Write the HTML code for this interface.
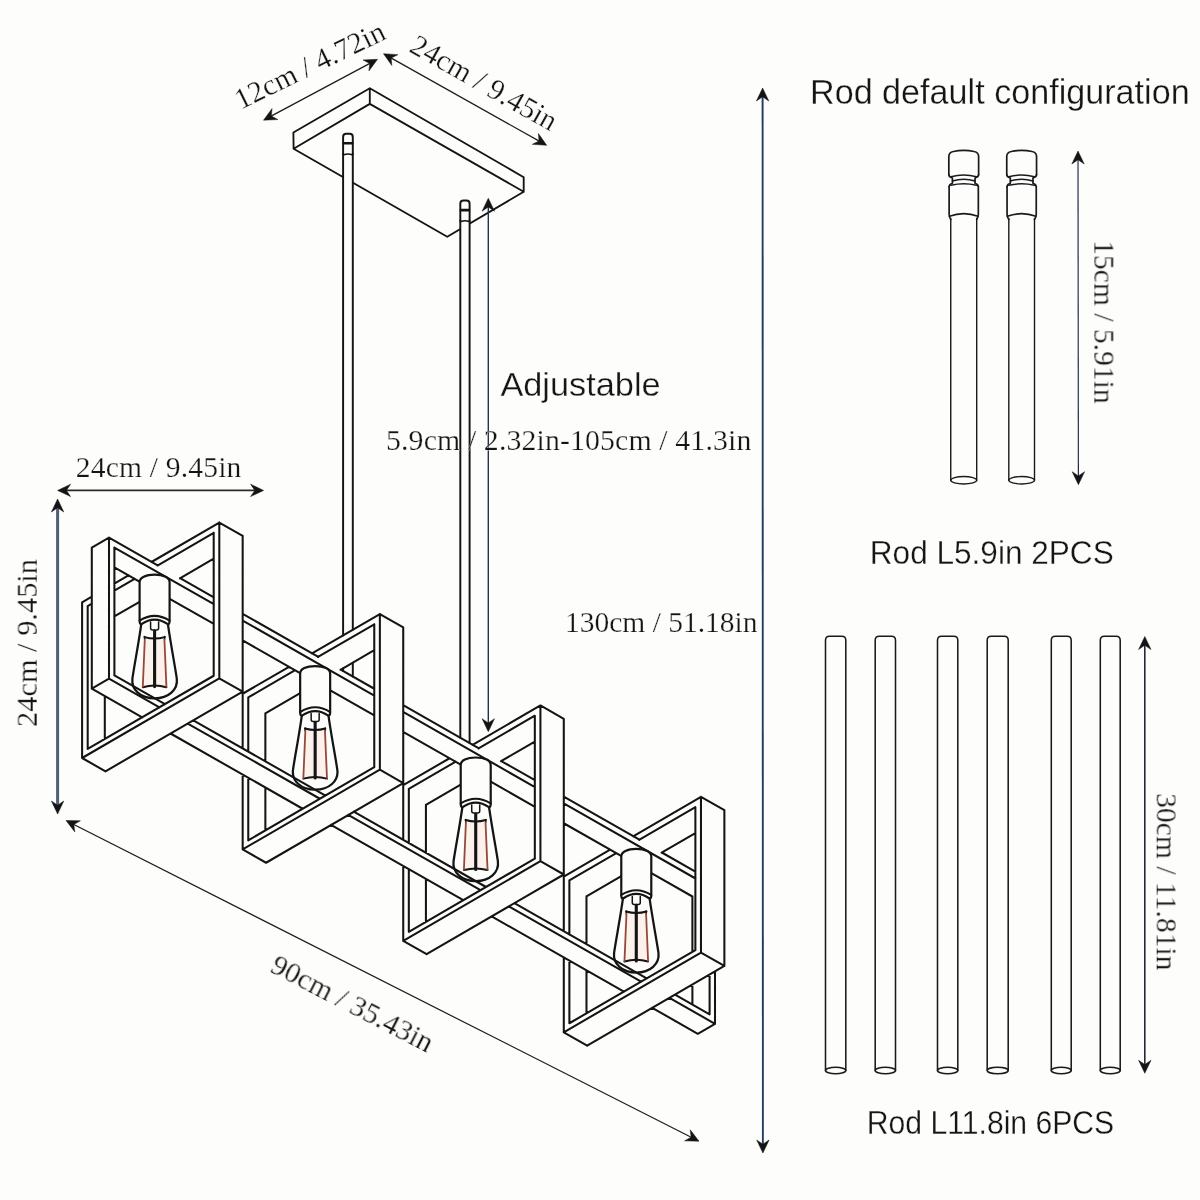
<!DOCTYPE html>
<html lang="en"><head><meta charset="utf-8"><title>Chandelier dimensions</title>
<style>
html,body{margin:0;padding:0;background:#fdfdfb;}
body{width:1200px;height:1200px;overflow:hidden;position:relative;}
svg{position:absolute;left:0;top:0;display:block;}
text{font-family:"Liberation Serif","Times New Roman",serif;}
text.sans{font-family:"Liberation Sans",Arial,sans-serif;}
</style></head><body>
<svg width="1200" height="1200" viewBox="0 0 1200 1200">
<path d="M293.4 132.5L369.8 88.2L523.7 177.2L523.7 191.75L447.25 236.7L293.6 148.8L293.4 132.5L293.6 148.8L369.8 103.9L523.7 191.75M369.8 88.2L369.8 103.9" fill="#fdfdfb" stroke="#141414" stroke-width="1.85" stroke-linecap="round" stroke-linejoin="round"/>
<rect x="343.1" y="135.7" width="9.7" height="58" fill="#fdfdfb"/>
<path d="M343.1 154.2L343.1 136.9Q343.1 133.7 346.3 133.7L349.6 133.7Q352.8 133.7 352.8 136.9L352.8 154.2" fill="#fdfdfb" stroke="#141414" stroke-width="1.95" stroke-linecap="round" stroke-linejoin="round"/>
<path d="M343.7 143.3L352.2 143.3" fill="none" stroke="#141414" stroke-width="2.6" stroke-linecap="round" stroke-linejoin="round"/>
<path d="M343.7 154.7Q347.95 153.1 352.2 154.7" fill="none" stroke="#141414" stroke-width="1.5" stroke-linecap="round" stroke-linejoin="round"/>
<rect x="460.3" y="202.5" width="9.3" height="58" fill="#fdfdfb"/>
<path d="M460.3 221L460.3 203.7Q460.3 200.5 463.5 200.5L466.4 200.5Q469.6 200.5 469.6 203.7L469.6 221" fill="#fdfdfb" stroke="#141414" stroke-width="1.95" stroke-linecap="round" stroke-linejoin="round"/>
<path d="M460.9 210.1L469 210.1" fill="none" stroke="#141414" stroke-width="2.6" stroke-linecap="round" stroke-linejoin="round"/>
<path d="M460.9 221.5Q464.95 219.9 469 221.5" fill="none" stroke="#141414" stroke-width="1.5" stroke-linecap="round" stroke-linejoin="round"/>
<path d="M343.1 153.7L343.1 635.46M343.1 668.27L343.1 671.07M352.8 153.7L352.8 629.81M352.8 662.61L352.8 676.62M460.3 220.5L460.3 737.7M469.6 220.5L469.6 743.05" fill="none" stroke="#141414" stroke-width="1.95" stroke-linecap="round" stroke-linejoin="round"/>
<path d="M109 678.67L159.41 707.38M187.75 723.52L319.87 798.76M348.2 814.9L480.49 890.23M508.83 906.37L641.12 981.71M669.45 997.85L715 1023.79M715 971.39L715 1023.79M109 537.67L157.67 565.39M180.1 578.16L213.82 597.37M242.68 613.8L318.3 656.87M340.73 669.64L374.28 688.75M403.13 705.18L478.93 748.34M501.18 761.02L534.9 780.22M563.76 796.66L639.38 839.72M661.81 852.49L695.36 871.6M109 537.67L109 678.67M114.4 675.35L164.99 704.15M193.32 720.29L325.43 795.53M353.77 811.66L486.05 887M514.39 903.14L646.67 978.47M675.01 994.61L709.6 1014.31M709.6 974.51L709.6 1014.31M114.4 547.55L213.83 604.17M242.69 620.61L374.28 695.55M403.13 711.98L534.9 787.02M563.76 803.45L695.52 878.49M114.4 547.55L114.4 675.35M91.8 688.66L109 678.67M91.8 547.66L109 537.67M91.8 547.66L91.8 688.66M91.8 688.66L142.21 717.37M170.55 733.51L302.67 808.75M331 824.89L463.29 900.23M491.63 916.37L623.92 991.7M652.25 1007.84L697.8 1033.78M697.8 1033.78L715 1023.79M692.4 896.5L692.4 951.79M692.4 984.44L692.4 1004.47M114.41 567.34L139.44 581.59M169.69 598.82L213.84 623.97M242.7 640.4L300.06 673.07M330.31 690.29L374.29 715.34M403.14 731.77L460.68 764.54M490.76 781.67L534.91 806.81M563.76 823.25L621.13 855.92M651.38 873.14L692.4 896.5M82.1 758L219.3 678.28M219.3 522.58L219.3 678.28M82.1 602.3L91.79 596.67M114.28 583.6L128.47 575.36M151.48 561.99L219.3 522.58M82.1 602.3L82.1 758M87.7 748.94L213.7 675.74M213.7 532.84L213.7 675.74M87.7 606.04L91.85 603.63M114.35 590.56L134.6 578.79M157.45 565.52L213.7 532.84M87.7 606.04L87.7 748.94M219.3 678.28L242.7 691.61M379.86 769.72L403.26 783.05M540.42 861.16L563.82 874.49M700.98 952.6L724.38 965.93M242.67 535.91L242.67 691.61M242.67 693.74L242.67 748.37M242.67 774.59L242.67 849.44M219.3 522.58L242.7 535.91M379.86 614.02L403.26 627.35M540.42 705.46L563.82 718.79M700.98 796.9L724.38 810.23M82.1 758L105.5 771.32M242.66 849.44L266.06 862.76M403.22 940.88L426.62 954.2M563.78 1032.31L587.18 1045.64M105.5 771.32L242.7 691.61M104.8 696.04L104.8 739.07M114.32 616.46L139.6 601.78M179.94 578.34L213.69 558.73M242.66 849.44L379.86 769.72M379.86 614.02L379.86 769.72M242.66 693.74L289.03 666.8M312.04 653.43L379.86 614.02M248.26 840.38L374.26 767.18M374.26 624.28L374.26 767.18M248.26 697.48L295.16 670.23M318.01 656.96L374.26 624.28M248.26 697.48L248.26 751.72M248.26 777.74L248.26 840.38M403.23 627.35L403.23 783.05M403.23 785.18L403.23 839.81M403.23 866.03L403.23 940.88M266.06 862.76L403.26 783.05M265.36 713.43L265.36 761.47M265.36 787.48L265.36 830.51M265.36 713.43L300.16 693.22M340.5 669.78L374.25 650.17M403.22 940.88L540.42 861.16M540.42 705.46L540.42 861.16M403.22 785.18L449.59 758.24M472.6 744.87L540.42 705.46M408.82 931.82L534.82 858.62M534.82 715.72L534.82 858.62M408.82 788.92L455.72 761.67M478.57 748.4L534.82 715.72M408.82 788.92L408.82 843.16M408.82 869.18L408.82 931.82M563.79 718.79L563.79 874.49M563.79 876.61L563.79 931.25M563.79 957.47L563.79 1032.31M426.62 954.2L563.82 874.49M425.92 804.87L425.92 852.9M425.92 878.92L425.92 921.95M425.92 804.87L460.72 784.66M501.06 761.22L534.81 741.61M563.78 1032.31L700.98 952.6M700.98 796.9L700.98 952.6M563.78 876.61L610.15 849.68M633.16 836.31L700.98 796.9M569.38 1023.26L695.38 950.06M695.38 807.16L695.38 950.06M569.38 880.36L616.28 853.11M639.13 839.84L695.38 807.16M569.38 880.36L569.38 934.6M569.38 960.62L569.38 1023.26M724.38 810.23L724.38 965.93M587.18 1045.64L724.38 965.93M586.48 896.31L586.48 944.34M586.48 970.36L586.48 1013.39M586.48 896.31L621.28 876.1M661.62 852.66L695.37 833.05" fill="none" stroke="#141414" stroke-width="2.05" stroke-linecap="round" stroke-linejoin="round"/>
<path d="M144.6 638.6L164.6 638.6L166.6 686.6L142.6 686.6Z" fill="#fdf1ec" stroke="#fdf6f3" stroke-width="3" stroke-linejoin="round"/>
<path d="M141.4 623.1C139.1 640.6 134.1 666.6 132.4 678.6C131.1 689.6 140.6 698.3 154.6 698.3C168.6 698.3 178.1 689.6 176.8 678.6C175.1 666.6 170.1 640.6 167.8 623.1" fill="none" stroke="#141414" stroke-width="2.25" stroke-linecap="round" stroke-linejoin="round"/>
<path d="M139.6 621.1L139.6 582.1C139.6 577.6 145.6 574.6 154.6 574.6C163.6 574.6 169.6 577.6 169.6 582.1L169.6 621.1C169.6 623.1 168.8 624.2 167.8 624.2Q154.6 615.1 141.4 624.2C140.4 624.2 139.6 623.1 139.6 621.1Z" fill="#fdfdfb" stroke="#141414" stroke-width="2.2" stroke-linecap="round" stroke-linejoin="round"/>
<path d="M139.6 620.6Q154.6 611.1 169.6 620.6" fill="none" stroke="#141414" stroke-width="2.05" stroke-linecap="round" stroke-linejoin="round"/>
<path d="M150.6 622.1L150.6 628.1Q150.6 630.1 152.6 630.1L156.6 630.1Q158.6 630.1 158.6 628.1L158.6 622.1" fill="none" stroke="#141414" stroke-width="1.5" stroke-linecap="round" stroke-linejoin="round"/>
<path d="M154.6 631.1L154.6 686.6" fill="none" stroke="#141414" stroke-width="3.1" stroke-linecap="round" stroke-linejoin="round" stroke-linecap="butt"/>
<path d="M144.4 637.1Q154.6 640.1 164.8 637.1" fill="none" stroke="#141414" stroke-width="2" stroke-linecap="round" stroke-linejoin="round"/>
<path d="M142.8 687.2Q154.6 683.8 166.4 687.2" fill="none" stroke="#141414" stroke-width="2" stroke-linecap="round" stroke-linejoin="round"/>
<path d="M144.6 636.6L144.6 639.6" fill="none" stroke="#141414" stroke-width="1.5" stroke-linecap="round" stroke-linejoin="round"/>
<path d="M164.6 636.6L164.6 639.6" fill="none" stroke="#141414" stroke-width="1.5" stroke-linecap="round" stroke-linejoin="round"/>
<path d="M144.8 639.6L142.8 686.6" fill="none" stroke="#94493a" stroke-width="1.8" stroke-linecap="round" stroke-linejoin="round"/>
<path d="M164.4 639.6L166.4 686.6" fill="none" stroke="#94493a" stroke-width="1.8" stroke-linecap="round" stroke-linejoin="round"/>
<path d="M305.16 730.04L325.16 730.04L327.16 778.04L303.16 778.04Z" fill="#fdf1ec" stroke="#fdf6f3" stroke-width="3" stroke-linejoin="round"/>
<path d="M301.96 714.54C299.66 732.04 294.66 758.04 292.96 770.04C291.66 781.04 301.16 789.74 315.16 789.74C329.16 789.74 338.66 781.04 337.36 770.04C335.66 758.04 330.66 732.04 328.36 714.54" fill="none" stroke="#141414" stroke-width="2.25" stroke-linecap="round" stroke-linejoin="round"/>
<path d="M300.16 712.54L300.16 673.54C300.16 669.04 306.16 666.04 315.16 666.04C324.16 666.04 330.16 669.04 330.16 673.54L330.16 712.54C330.16 714.54 329.36 715.64 328.36 715.64Q315.16 706.54 301.96 715.64C300.96 715.64 300.16 714.54 300.16 712.54Z" fill="#fdfdfb" stroke="#141414" stroke-width="2.2" stroke-linecap="round" stroke-linejoin="round"/>
<path d="M300.16 712.04Q315.16 702.54 330.16 712.04" fill="none" stroke="#141414" stroke-width="2.05" stroke-linecap="round" stroke-linejoin="round"/>
<path d="M311.16 713.54L311.16 719.54Q311.16 721.54 313.16 721.54L317.16 721.54Q319.16 721.54 319.16 719.54L319.16 713.54" fill="none" stroke="#141414" stroke-width="1.5" stroke-linecap="round" stroke-linejoin="round"/>
<path d="M315.16 722.54L315.16 778.04" fill="none" stroke="#141414" stroke-width="3.1" stroke-linecap="round" stroke-linejoin="round" stroke-linecap="butt"/>
<path d="M304.96 728.54Q315.16 731.54 325.36 728.54" fill="none" stroke="#141414" stroke-width="2" stroke-linecap="round" stroke-linejoin="round"/>
<path d="M303.36 778.64Q315.16 775.24 326.96 778.64" fill="none" stroke="#141414" stroke-width="2" stroke-linecap="round" stroke-linejoin="round"/>
<path d="M305.16 728.04L305.16 731.04" fill="none" stroke="#141414" stroke-width="1.5" stroke-linecap="round" stroke-linejoin="round"/>
<path d="M325.16 728.04L325.16 731.04" fill="none" stroke="#141414" stroke-width="1.5" stroke-linecap="round" stroke-linejoin="round"/>
<path d="M305.36 731.04L303.36 778.04" fill="none" stroke="#94493a" stroke-width="1.8" stroke-linecap="round" stroke-linejoin="round"/>
<path d="M324.96 731.04L326.96 778.04" fill="none" stroke="#94493a" stroke-width="1.8" stroke-linecap="round" stroke-linejoin="round"/>
<path d="M465.72 821.48L485.72 821.48L487.72 869.48L463.72 869.48Z" fill="#fdf1ec" stroke="#fdf6f3" stroke-width="3" stroke-linejoin="round"/>
<path d="M462.52 805.98C460.22 823.48 455.22 849.48 453.52 861.48C452.22 872.48 461.72 881.18 475.72 881.18C489.72 881.18 499.22 872.48 497.92 861.48C496.22 849.48 491.22 823.48 488.92 805.98" fill="none" stroke="#141414" stroke-width="2.25" stroke-linecap="round" stroke-linejoin="round"/>
<path d="M460.72 803.98L460.72 764.98C460.72 760.48 466.72 757.48 475.72 757.48C484.72 757.48 490.72 760.48 490.72 764.98L490.72 803.98C490.72 805.98 489.92 807.08 488.92 807.08Q475.72 797.98 462.52 807.08C461.52 807.08 460.72 805.98 460.72 803.98Z" fill="#fdfdfb" stroke="#141414" stroke-width="2.2" stroke-linecap="round" stroke-linejoin="round"/>
<path d="M460.72 803.48Q475.72 793.98 490.72 803.48" fill="none" stroke="#141414" stroke-width="2.05" stroke-linecap="round" stroke-linejoin="round"/>
<path d="M471.72 804.98L471.72 810.98Q471.72 812.98 473.72 812.98L477.72 812.98Q479.72 812.98 479.72 810.98L479.72 804.98" fill="none" stroke="#141414" stroke-width="1.5" stroke-linecap="round" stroke-linejoin="round"/>
<path d="M475.72 813.98L475.72 869.48" fill="none" stroke="#141414" stroke-width="3.1" stroke-linecap="round" stroke-linejoin="round" stroke-linecap="butt"/>
<path d="M465.52 819.98Q475.72 822.98 485.92 819.98" fill="none" stroke="#141414" stroke-width="2" stroke-linecap="round" stroke-linejoin="round"/>
<path d="M463.92 870.08Q475.72 866.68 487.52 870.08" fill="none" stroke="#141414" stroke-width="2" stroke-linecap="round" stroke-linejoin="round"/>
<path d="M465.72 819.48L465.72 822.48" fill="none" stroke="#141414" stroke-width="1.5" stroke-linecap="round" stroke-linejoin="round"/>
<path d="M485.72 819.48L485.72 822.48" fill="none" stroke="#141414" stroke-width="1.5" stroke-linecap="round" stroke-linejoin="round"/>
<path d="M465.92 822.48L463.92 869.48" fill="none" stroke="#94493a" stroke-width="1.8" stroke-linecap="round" stroke-linejoin="round"/>
<path d="M485.52 822.48L487.52 869.48" fill="none" stroke="#94493a" stroke-width="1.8" stroke-linecap="round" stroke-linejoin="round"/>
<path d="M626.28 912.92L646.28 912.92L648.28 960.92L624.28 960.92Z" fill="#fdf1ec" stroke="#fdf6f3" stroke-width="3" stroke-linejoin="round"/>
<path d="M623.08 897.42C620.78 914.92 615.78 940.92 614.08 952.92C612.78 963.92 622.28 972.62 636.28 972.62C650.28 972.62 659.78 963.92 658.48 952.92C656.78 940.92 651.78 914.92 649.48 897.42" fill="none" stroke="#141414" stroke-width="2.25" stroke-linecap="round" stroke-linejoin="round"/>
<path d="M621.28 895.42L621.28 856.42C621.28 851.92 627.28 848.92 636.28 848.92C645.28 848.92 651.28 851.92 651.28 856.42L651.28 895.42C651.28 897.42 650.48 898.52 649.48 898.52Q636.28 889.42 623.08 898.52C622.08 898.52 621.28 897.42 621.28 895.42Z" fill="#fdfdfb" stroke="#141414" stroke-width="2.2" stroke-linecap="round" stroke-linejoin="round"/>
<path d="M621.28 894.92Q636.28 885.42 651.28 894.92" fill="none" stroke="#141414" stroke-width="2.05" stroke-linecap="round" stroke-linejoin="round"/>
<path d="M632.28 896.42L632.28 902.42Q632.28 904.42 634.28 904.42L638.28 904.42Q640.28 904.42 640.28 902.42L640.28 896.42" fill="none" stroke="#141414" stroke-width="1.5" stroke-linecap="round" stroke-linejoin="round"/>
<path d="M636.28 905.42L636.28 960.92" fill="none" stroke="#141414" stroke-width="3.1" stroke-linecap="round" stroke-linejoin="round" stroke-linecap="butt"/>
<path d="M626.08 911.42Q636.28 914.42 646.48 911.42" fill="none" stroke="#141414" stroke-width="2" stroke-linecap="round" stroke-linejoin="round"/>
<path d="M624.48 961.52Q636.28 958.12 648.08 961.52" fill="none" stroke="#141414" stroke-width="2" stroke-linecap="round" stroke-linejoin="round"/>
<path d="M626.28 910.92L626.28 913.92" fill="none" stroke="#141414" stroke-width="1.5" stroke-linecap="round" stroke-linejoin="round"/>
<path d="M646.28 910.92L646.28 913.92" fill="none" stroke="#141414" stroke-width="1.5" stroke-linecap="round" stroke-linejoin="round"/>
<path d="M626.48 913.92L624.48 960.92" fill="none" stroke="#94493a" stroke-width="1.8" stroke-linecap="round" stroke-linejoin="round"/>
<path d="M646.08 913.92L648.08 960.92" fill="none" stroke="#94493a" stroke-width="1.8" stroke-linecap="round" stroke-linejoin="round"/>
<path d="M268.79 117.37L372.21 62.13" fill="none" stroke="#1b1b20" stroke-width="1.2"/>
<path d="M263.5 120.2L272.05 108.61L271.26 116.05L277.89 119.54Z" fill="#141414" stroke="#141414" stroke-width="0.5" stroke-linejoin="miter"/>
<path d="M377.5 59.3L368.95 70.89L369.74 63.45L363.11 59.96Z" fill="#141414" stroke="#141414" stroke-width="0.5" stroke-linejoin="miter"/>
<path d="M388.73 56.64L541.47 142.36" fill="none" stroke="#1b1b20" stroke-width="1.2"/>
<path d="M383.5 53.7L397.87 54.66L391.17 58.01L391.8 65.47Z" fill="#141414" stroke="#141414" stroke-width="0.5" stroke-linejoin="miter"/>
<path d="M546.7 145.3L532.33 144.34L539.03 140.99L538.4 133.53Z" fill="#141414" stroke="#141414" stroke-width="0.5" stroke-linejoin="miter"/>
<path d="M488.3 204.2L488.3 725.7" fill="none" stroke="#26324f" stroke-width="1.4"/>
<path d="M488.3 198.2L494.5 211.2L488.3 207L482.1 211.2Z" fill="#141414" stroke="#141414" stroke-width="0.5" stroke-linejoin="miter"/>
<path d="M488.3 731.7L482.1 718.7L488.3 722.9L494.5 718.7Z" fill="#141414" stroke="#141414" stroke-width="0.5" stroke-linejoin="miter"/>
<path d="M762.6 94L762.9 1147" fill="none" stroke="#263a60" stroke-width="1.9"/>
<path d="M762.6 88L768.8 101L762.6 96.8L756.4 101Z" fill="#141414" stroke="#141414" stroke-width="0.5" stroke-linejoin="miter"/>
<path d="M762.9 1153L756.7 1140L762.9 1144.2L769.1 1140Z" fill="#141414" stroke="#141414" stroke-width="0.5" stroke-linejoin="miter"/>
<path d="M63.6 490.4L257.6 490.4" fill="none" stroke="#2a2a2e" stroke-width="1.7"/>
<path d="M57.6 490.4L70.6 484.2L66.4 490.4L70.6 496.6Z" fill="#141414" stroke="#141414" stroke-width="0.5" stroke-linejoin="miter"/>
<path d="M263.6 490.4L250.6 496.6L254.8 490.4L250.6 484.2Z" fill="#141414" stroke="#141414" stroke-width="0.5" stroke-linejoin="miter"/>
<path d="M57.6 505L57.6 808" fill="none" stroke="#505d7b" stroke-width="3"/>
<path d="M57.6 499L63.8 512L57.6 507.8L51.4 512Z" fill="#141414" stroke="#141414" stroke-width="0.5" stroke-linejoin="miter"/>
<path d="M57.6 814L51.4 801L57.6 805.2L63.8 801Z" fill="#141414" stroke="#141414" stroke-width="0.5" stroke-linejoin="miter"/>
<path d="M71.35 823.21L693.65 1138.49" fill="none" stroke="#1b1b20" stroke-width="1.2"/>
<path d="M66 820.5L80.4 820.84L73.85 824.48L74.79 831.91Z" fill="#141414" stroke="#141414" stroke-width="0.5" stroke-linejoin="miter"/>
<path d="M699 1141.2L684.6 1140.86L691.15 1137.22L690.21 1129.79Z" fill="#141414" stroke="#141414" stroke-width="0.5" stroke-linejoin="miter"/>
<path d="M1078.01 157L1078.39 478.7" fill="none" stroke="#24304e" stroke-width="1.2"/>
<path d="M1078 151L1084.22 163.99L1078.01 159.8L1071.82 164.01Z" fill="#141414" stroke="#141414" stroke-width="0.5" stroke-linejoin="miter"/>
<path d="M1078.4 484.7L1072.18 471.71L1078.39 475.9L1084.58 471.69Z" fill="#141414" stroke="#141414" stroke-width="0.5" stroke-linejoin="miter"/>
<path d="M1144.8 642.5L1144.8 1067.3" fill="none" stroke="#262a38" stroke-width="1.6"/>
<path d="M1144.8 636.5L1151 649.5L1144.8 645.3L1138.6 649.5Z" fill="#141414" stroke="#141414" stroke-width="0.5" stroke-linejoin="miter"/>
<path d="M1144.8 1073.3L1138.6 1060.3L1144.8 1064.5L1151 1060.3Z" fill="#141414" stroke="#141414" stroke-width="0.5" stroke-linejoin="miter"/>
<path d="M825.5 1070.5L825.5 640.3Q825.5 636.3 829.5 636.3L841.8 636.3Q845.8 636.3 845.8 640.3L845.8 1070.5" fill="none" stroke="#1a1a1e" stroke-width="1.55" stroke-linecap="round" stroke-linejoin="round"/>
<ellipse cx="835.65" cy="1070.5" rx="10.15" ry="3.2" fill="none" stroke="#1a1a1e" stroke-width="1.55"/>
<path d="M875.2 1070.5L875.2 640.3Q875.2 636.3 879.2 636.3L891.5 636.3Q895.5 636.3 895.5 640.3L895.5 1070.5" fill="none" stroke="#1a1a1e" stroke-width="1.55" stroke-linecap="round" stroke-linejoin="round"/>
<ellipse cx="885.35" cy="1070.5" rx="10.15" ry="3.2" fill="none" stroke="#1a1a1e" stroke-width="1.55"/>
<path d="M937.5 1070.5L937.5 640.3Q937.5 636.3 941.5 636.3L953.8 636.3Q957.8 636.3 957.8 640.3L957.8 1070.5" fill="none" stroke="#1a1a1e" stroke-width="1.55" stroke-linecap="round" stroke-linejoin="round"/>
<ellipse cx="947.65" cy="1070.5" rx="10.15" ry="3.2" fill="none" stroke="#1a1a1e" stroke-width="1.55"/>
<path d="M987.2 1070.5L987.2 640.3Q987.2 636.3 991.2 636.3L1004.2 636.3Q1008.2 636.3 1008.2 640.3L1008.2 1070.5" fill="none" stroke="#1a1a1e" stroke-width="1.55" stroke-linecap="round" stroke-linejoin="round"/>
<ellipse cx="997.7" cy="1070.5" rx="10.5" ry="3.2" fill="none" stroke="#1a1a1e" stroke-width="1.55"/>
<path d="M1051.3 1070.5L1051.3 640.3Q1051.3 636.3 1055.3 636.3L1067.2 636.3Q1071.2 636.3 1071.2 640.3L1071.2 1070.5" fill="none" stroke="#1a1a1e" stroke-width="1.55" stroke-linecap="round" stroke-linejoin="round"/>
<ellipse cx="1061.25" cy="1070.5" rx="9.95" ry="3.2" fill="none" stroke="#1a1a1e" stroke-width="1.55"/>
<path d="M1100.3 1070.5L1100.3 640.3Q1100.3 636.3 1104.3 636.3L1116.2 636.3Q1120.2 636.3 1120.2 640.3L1120.2 1070.5" fill="none" stroke="#1a1a1e" stroke-width="1.55" stroke-linecap="round" stroke-linejoin="round"/>
<ellipse cx="1110.25" cy="1070.5" rx="9.95" ry="3.2" fill="none" stroke="#1a1a1e" stroke-width="1.55"/>
<path d="M950.75 218.5L950.75 480.25M976.7 218.5L976.7 480.25" fill="none" stroke="#1a1a1e" stroke-width="1.4" stroke-linecap="round" stroke-linejoin="round"/>
<ellipse cx="963.73" cy="480.25" rx="12.98" ry="3.7" fill="none" stroke="#1a1a1e" stroke-width="1.4"/>
<path d="M948.83 174.5L948.83 156.5Q948.83 152.3 953.33 151.5Q963.73 149.3 974.12 151.5Q978.62 152.3 978.62 156.5L978.62 174.5" fill="none" stroke="#1a1a1e" stroke-width="1.7" stroke-linecap="round" stroke-linejoin="round"/>
<path d="M948.83 174.5Q948.83 177 952.43 178L952.43 183.3Q949.33 184.3 949.12 186.5" fill="none" stroke="#1a1a1e" stroke-width="1.7" stroke-linecap="round" stroke-linejoin="round"/>
<path d="M978.62 174.5Q978.62 177 975.02 178L975.02 183.3Q978.12 184.3 978.33 186.5" fill="none" stroke="#1a1a1e" stroke-width="1.7" stroke-linecap="round" stroke-linejoin="round"/>
<path d="M950.93 176.8Q963.73 173.2 976.52 176.8" fill="none" stroke="#1a1a1e" stroke-width="1.5" stroke-linecap="round" stroke-linejoin="round"/>
<path d="M952.43 181Q963.73 177.6 975.02 181" fill="none" stroke="#1a1a1e" stroke-width="1.5" stroke-linecap="round" stroke-linejoin="round"/>
<path d="M950.93 185.3Q963.73 182.3 976.52 185.3" fill="none" stroke="#1a1a1e" stroke-width="1.5" stroke-linecap="round" stroke-linejoin="round"/>
<path d="M949.12 186.5L949.12 214.5Q949.33 217.3 950.75 219.5" fill="none" stroke="#1a1a1e" stroke-width="1.7" stroke-linecap="round" stroke-linejoin="round"/>
<path d="M978.33 186.5L978.33 214.5Q978.12 217.3 976.7 219.5" fill="none" stroke="#1a1a1e" stroke-width="1.7" stroke-linecap="round" stroke-linejoin="round"/>
<path d="M949.43 216.3Q963.73 211 978.02 216.3" fill="none" stroke="#1a1a1e" stroke-width="1.7" stroke-linecap="round" stroke-linejoin="round"/>
<path d="M1008.8 218.5L1008.8 480.25M1034.5 218.5L1034.5 480.25" fill="none" stroke="#1a1a1e" stroke-width="1.4" stroke-linecap="round" stroke-linejoin="round"/>
<ellipse cx="1021.65" cy="480.25" rx="12.85" ry="3.7" fill="none" stroke="#1a1a1e" stroke-width="1.4"/>
<path d="M1006.75 174.5L1006.75 156.5Q1006.75 152.3 1011.25 151.5Q1021.65 149.3 1032.05 151.5Q1036.55 152.3 1036.55 156.5L1036.55 174.5" fill="none" stroke="#1a1a1e" stroke-width="1.7" stroke-linecap="round" stroke-linejoin="round"/>
<path d="M1006.75 174.5Q1006.75 177 1010.35 178L1010.35 183.3Q1007.25 184.3 1007.05 186.5" fill="none" stroke="#1a1a1e" stroke-width="1.7" stroke-linecap="round" stroke-linejoin="round"/>
<path d="M1036.55 174.5Q1036.55 177 1032.95 178L1032.95 183.3Q1036.05 184.3 1036.25 186.5" fill="none" stroke="#1a1a1e" stroke-width="1.7" stroke-linecap="round" stroke-linejoin="round"/>
<path d="M1008.85 176.8Q1021.65 173.2 1034.45 176.8" fill="none" stroke="#1a1a1e" stroke-width="1.5" stroke-linecap="round" stroke-linejoin="round"/>
<path d="M1010.35 181Q1021.65 177.6 1032.95 181" fill="none" stroke="#1a1a1e" stroke-width="1.5" stroke-linecap="round" stroke-linejoin="round"/>
<path d="M1008.85 185.3Q1021.65 182.3 1034.45 185.3" fill="none" stroke="#1a1a1e" stroke-width="1.5" stroke-linecap="round" stroke-linejoin="round"/>
<path d="M1007.05 186.5L1007.05 214.5Q1007.25 217.3 1008.8 219.5" fill="none" stroke="#1a1a1e" stroke-width="1.7" stroke-linecap="round" stroke-linejoin="round"/>
<path d="M1036.25 186.5L1036.25 214.5Q1036.05 217.3 1034.5 219.5" fill="none" stroke="#1a1a1e" stroke-width="1.7" stroke-linecap="round" stroke-linejoin="round"/>
<path d="M1007.35 216.3Q1021.65 211 1035.95 216.3" fill="none" stroke="#1a1a1e" stroke-width="1.7" stroke-linecap="round" stroke-linejoin="round"/>
<g opacity="0.995"><text font-size="29.6" transform="translate(240.5 110) rotate(-26)" fill="#141414" stroke="#fdfdfb" stroke-width="0.25">12cm / 4.72in</text>
<text font-size="29.6" transform="translate(408 51) rotate(29.5)" fill="#141414" stroke="#fdfdfb" stroke-width="0.25">24cm / 9.45in</text>
<text font-size="29.6" letter-spacing="0.17" transform="translate(75.8 477)" fill="#141414" stroke="#fdfdfb" stroke-width="0.25">24cm / 9.45in</text>
<text font-size="30.4" transform="translate(36.7 727) rotate(-90)" fill="#141414" stroke="#fdfdfb" stroke-width="0.25">24cm / 9.45in</text>
<text font-size="29.8" letter-spacing="0.13" transform="translate(386 450.2)" fill="#141414" stroke="#fdfdfb" stroke-width="0.25">5.9cm / 2.32in-105cm / 41.3in</text>
<text font-size="29.5" transform="translate(565 631.7)" fill="#141414" stroke="#fdfdfb" stroke-width="0.25">130cm / 51.18in</text>
<text font-size="29.6" transform="translate(268.8 971.2) rotate(27.3)" fill="#141414" stroke="#fdfdfb" stroke-width="0.25">90cm / 35.43in</text>
<text font-size="29.6" transform="translate(1094.4 240.2) rotate(90)" fill="#141414" stroke="#fdfdfb" stroke-width="0.25">15cm / 5.91in</text>
<text font-size="29.6" transform="translate(1156.7 793.2) rotate(90)" fill="#141414" stroke="#fdfdfb" stroke-width="0.25">30cm / 11.81in</text>
<text font-size="34.4" class="sans" transform="translate(810 103.7) scale(0.9930 1)" fill="#141414" stroke="#fdfdfb" stroke-width="0.3">Rod default configuration</text>
<text font-size="33" class="sans" transform="translate(500.4 395.7) scale(1.0400 1)" fill="#141414" stroke="#fdfdfb" stroke-width="0.3">Adjustable</text>
<text font-size="32.7" class="sans" transform="translate(869.8 564.2) scale(0.9660 1)" fill="#141414" stroke="#fdfdfb" stroke-width="0.3">Rod L5.9in 2PCS</text>
<text font-size="32.7" class="sans" transform="translate(866.8 1133.5) scale(0.9220 1)" fill="#141414" stroke="#fdfdfb" stroke-width="0.3">Rod L11.8in 6PCS</text></g>
</svg>
</body></html>
